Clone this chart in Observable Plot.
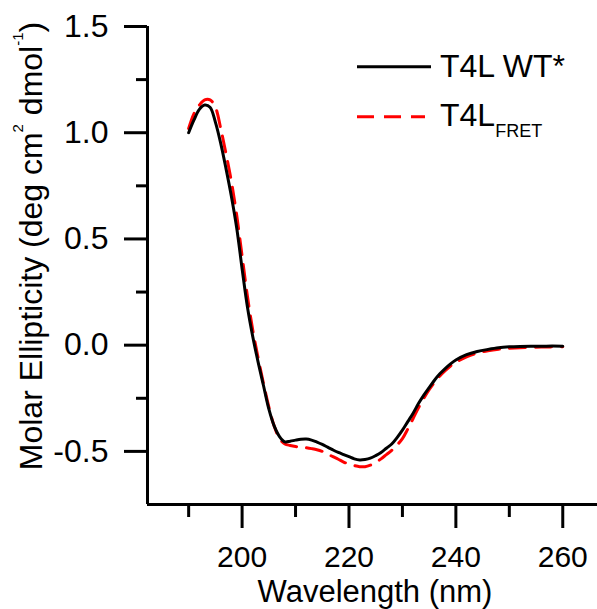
<!DOCTYPE html>
<html><head><meta charset="utf-8">
<script src="https://cdn.jsdelivr.net/npm/d3@7"></script>
<script src="https://cdn.jsdelivr.net/npm/@observablehq/plot@0.6"></script>
<style>body{margin:0;background:#fff;} svg{display:block}</style>
</head><body><div id="chart"></div>
<script>
// Wavelength (nm)
const wavelength = [190,191,192,193,194,195,196,197,198,199,200,201,202,203,204,205,206,207,208,209,210,211,212,213,214,215,216,217,218,219,220,221,222,223,224,225,226,227,228,229,230,231,232,233,234,235,236,237,238,239,240,242,244,246,248,250,252,254,256,258,260];
// T4L WT* molar ellipticity
const wtStar = [1.00,1.06,1.11,1.13,1.12,1.05,0.95,0.83,0.70,0.55,0.36,0.18,0.04,-0.08,-0.19,-0.30,-0.38,-0.43,-0.455,-0.452,-0.447,-0.443,-0.442,-0.447,-0.456,-0.467,-0.48,-0.493,-0.505,-0.515,-0.525,-0.535,-0.54,-0.538,-0.532,-0.52,-0.505,-0.485,-0.465,-0.435,-0.40,-0.36,-0.32,-0.275,-0.235,-0.20,-0.165,-0.135,-0.11,-0.088,-0.07,-0.045,-0.03,-0.02,-0.012,-0.008,-0.006,-0.005,-0.005,-0.004,-0.005];
// T4L FRET molar ellipticity
const t4lFret = [1.02,1.09,1.13,1.155,1.155,1.12,1.02,0.90,0.77,0.61,0.42,0.23,0.07,-0.06,-0.18,-0.29,-0.38,-0.44,-0.465,-0.472,-0.477,-0.48,-0.483,-0.487,-0.492,-0.50,-0.512,-0.525,-0.537,-0.55,-0.56,-0.567,-0.572,-0.572,-0.565,-0.553,-0.535,-0.515,-0.495,-0.47,-0.44,-0.395,-0.345,-0.295,-0.25,-0.21,-0.175,-0.145,-0.12,-0.098,-0.08,-0.055,-0.037,-0.026,-0.019,-0.015,-0.012,-0.01,-0.009,-0.008,-0.008];

const xMajorTicks = [200,220,240,260];
const xMinorTicks = [190,210,230,250];
const yMajorTicks = [-0.5,0,0.5,1,1.5];
const yMinorTicks = [-0.25,0.25,0.75,1.25];
const xDomain = [182.3, 266.5];
const yDomain = [-0.75, 1.5];
const xLabel = "Wavelength (nm)";

const wtData = wavelength.map((w,i) => ({nm: w, v: wtStar[i]}));
const fretData = wavelength.map((w,i) => ({nm: w, v: t4lFret[i]}));

const FONT = "'Liberation Sans', Arial, sans-serif";
const FS = 32;

const plot = Plot.plot({
  width: 597,
  height: 609,
  marginLeft: 147,
  marginRight: 0,
  marginTop: 26,
  marginBottom: 105,
  style: {fontFamily: FONT, fontSize: FS + "px", background: "#fff", color: "#000"},
  x: {domain: xDomain, label: null},
  y: {domain: yDomain, label: null},
  marks: [
    Plot.line(fretData, {x: "nm", y: "v", stroke: "#ff0000", strokeWidth: 3, strokeDasharray: "16,10", curve: "catmull-rom"}),
    Plot.line(wtData, {x: "nm", y: "v", stroke: "#000", strokeWidth: 3, curve: "catmull-rom"}),
    Plot.ruleX([xDomain[0]], {stroke: "#000", strokeWidth: 3}),
    Plot.ruleY([yDomain[0]], {stroke: "#000", strokeWidth: 3}),
    Plot.axisX({ticks: xMajorTicks, tickSize: 24, tickPadding: 17, fontSize: 30, strokeWidth: 3, stroke: "#000", fill: "#000", label: null, tickFormat: d => String(d)}),
    Plot.axisX({ticks: xMinorTicks, tickSize: 13, strokeWidth: 3, stroke: "#000", fill: "none", label: null}),
    Plot.axisY({ticks: yMajorTicks, tickSize: 23, tickPadding: 16, fontSize: FS, strokeWidth: 3, stroke: "#000", fill: "#000", label: null, tickFormat: d => d.toFixed(1)}),
    Plot.axisY({ticks: yMinorTicks, tickSize: 11, strokeWidth: 3, stroke: "#000", fill: "none", label: null})
  ]
});
document.getElementById("chart").appendChild(plot);

const svg = d3.select(plot);
// x title
svg.append("text").attr("x", 375).attr("y", 602).attr("text-anchor", "middle")
  .attr("font-family", FONT).attr("font-size", 31).attr("fill", "#000").text(xLabel);
// y title with superscripts
const yt = svg.append("text").attr("transform", "translate(42,246) rotate(-90)")
  .attr("text-anchor", "middle").attr("font-family", FONT).attr("font-size", FS).attr("fill", "#000");
yt.append("tspan").text("Molar Ellipticity (deg cm");
yt.append("tspan").attr("font-size", 15).attr("dy", -19).text("2");
yt.append("tspan").attr("dy", 19).text(" dmol");
yt.append("tspan").attr("font-size", 15).attr("dy", -19).text("-1");
yt.append("tspan").attr("dy", 19).text(")");

// legend
const lg = svg.append("g").attr("font-family", FONT).attr("font-size", FS).attr("fill", "#000").attr("text-anchor", "start");
lg.append("line").attr("x1", 357).attr("x2", 431).attr("y1", 66.7).attr("y2", 66.7).attr("stroke", "#000").attr("stroke-width", 3);
lg.append("text").attr("x", 440).attr("y", 77).attr("text-anchor", "start").text("T4L WT*");
lg.append("line").attr("x1", 357).attr("x2", 425).attr("y1", 116.7).attr("y2", 116.7).attr("stroke", "#ff0000").attr("stroke-width", 3).attr("stroke-dasharray", "17,10");
const t2 = lg.append("text").attr("x", 440).attr("y", 126).attr("text-anchor", "start");
t2.append("tspan").text("T4L");
t2.append("tspan").attr("font-size", 18).attr("dy", 11).text("FRET");
</script></body></html>
